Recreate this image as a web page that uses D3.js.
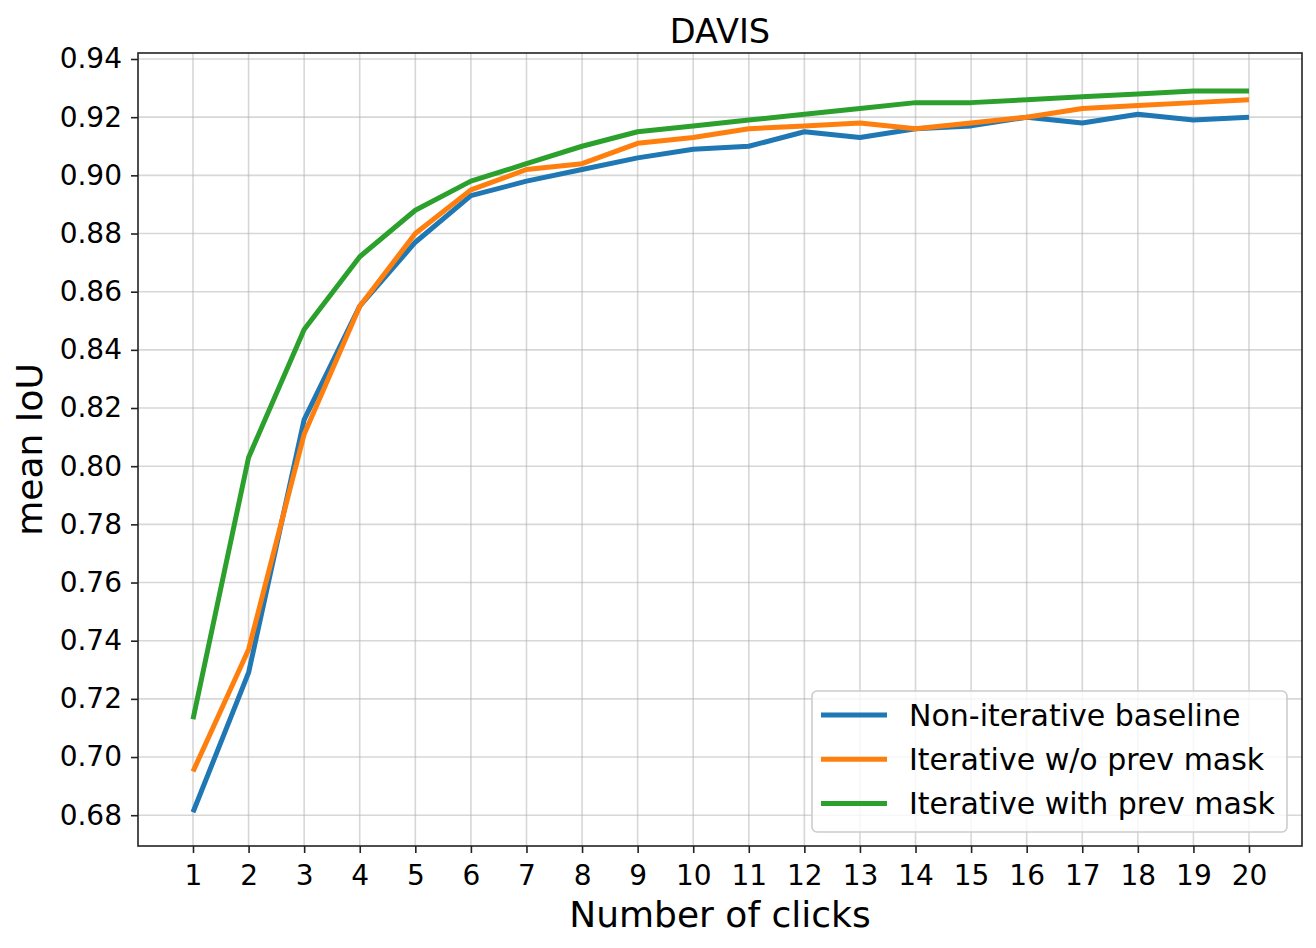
<!DOCTYPE html>
<html>
<head>
<meta charset="utf-8">
<script src="https://cdn.jsdelivr.net/npm/d3@7"></script>
<style>
  body { margin: 0; background: #fff; }
  text { font-family: "DejaVu Sans", sans-serif; fill: #000; }
</style>
</head>
<body>
<div id="chart"></div>
<script>
// clicks on the x axis
var clicks = d3.range(1, 21);

// mean IoU per click
var baseline = [0.681, 0.729, 0.816, 0.855, 0.877, 0.893, 0.898, 0.902, 0.906, 0.909,
                0.910, 0.915, 0.913, 0.916, 0.917, 0.920, 0.918, 0.921, 0.919, 0.920];
var iterNoPrev = [0.695, 0.737, 0.811, 0.855, 0.880, 0.895, 0.902, 0.904, 0.911, 0.913,
                  0.916, 0.917, 0.918, 0.916, 0.918, 0.920, 0.923, 0.924, 0.925, 0.926];
var iterPrev = [0.713, 0.803, 0.847, 0.872, 0.888, 0.898, 0.904, 0.910, 0.915, 0.917,
                0.919, 0.921, 0.923, 0.925, 0.925, 0.926, 0.927, 0.928, 0.929, 0.929];

var seriesNames = ["Non-iterative baseline", "Iterative w/o prev mask", "Iterative with prev mask"];
var seriesColors = ["#1f77b4", "#ff7f0e", "#2ca02c"];
var yTicks = d3.range(0.68, 0.9401, 0.02);

var W = 1316, H = 948;
// plot frame
var frame = {left: 138, right: 1302, top: 53, bottom: 846};

var svg = d3.select("#chart").append("svg")
  .attr("width", W)
  .attr("height", H);

var x = d3.scaleLinear().domain([1, 20]).range([193, 1249]);
var y = d3.scaleLinear().domain([0.68, 0.94]).range([815.2, 59]);

// grid
var grid = svg.append("g");
grid.selectAll("line.gx").data(clicks).enter().append("line")
  .attr("x1", d => x(d)).attr("x2", d => x(d))
  .attr("y1", frame.top).attr("y2", frame.bottom)
  .attr("stroke", "#b0b0b0").attr("stroke-opacity", 0.5).attr("stroke-width", 1.6);
grid.selectAll("line.gy").data(yTicks).enter().append("line")
  .attr("x1", frame.left).attr("x2", frame.right)
  .attr("y1", d => y(d)).attr("y2", d => y(d))
  .attr("stroke", "#b0b0b0").attr("stroke-opacity", 0.5).attr("stroke-width", 1.6);

// lines
var line = d3.line().x((d, i) => x(clicks[i])).y(d => y(d));
[baseline, iterNoPrev, iterPrev].forEach(function(s, k) {
  svg.append("path")
    .attr("d", line(s))
    .attr("fill", "none")
    .attr("stroke", seriesColors[k])
    .attr("stroke-width", 5)
    .attr("stroke-linejoin", "round");
});

// axes
var xAxis = d3.axisBottom(x).tickValues(clicks).tickSize(7).tickPadding(12);
var gx = svg.append("g").attr("transform", "translate(0," + frame.bottom + ")").call(xAxis);
gx.select(".domain").remove();
gx.selectAll("line").attr("stroke", "#222").attr("stroke-width", 1.6);
gx.selectAll("text").style("font-size", "28px").attr("dy", "0.71em")
  .style("font-family", "DejaVu Sans");

var yAxis = d3.axisLeft(y).tickValues(yTicks).tickFormat(d3.format(".2f")).tickSize(7).tickPadding(9);
var gy = svg.append("g").attr("transform", "translate(" + frame.left + ",0)").call(yAxis);
gy.select(".domain").remove();
gy.selectAll("line").attr("stroke", "#222").attr("stroke-width", 1.6);
gy.selectAll("text").style("font-size", "28px").style("font-family", "DejaVu Sans");

// spines
svg.append("rect")
  .attr("x", frame.left).attr("y", frame.top)
  .attr("width", frame.right - frame.left).attr("height", frame.bottom - frame.top)
  .attr("fill", "none").attr("stroke", "#222").attr("stroke-width", 1.6);

// title and labels
svg.append("text").attr("x", (frame.left + frame.right) / 2).attr("y", 43)
  .attr("text-anchor", "middle").style("font-size", "33.6px").text("DAVIS");
svg.append("text").attr("x", (frame.left + frame.right) / 2).attr("y", 927)
  .attr("text-anchor", "middle").style("font-size", "36px").text("Number of clicks");
svg.append("text")
  .attr("transform", "translate(42," + ((frame.top + frame.bottom) / 2) + ") rotate(-90)")
  .attr("text-anchor", "middle").style("font-size", "36px").text("mean IoU");

// legend
var leg = svg.append("g");
leg.append("rect")
  .attr("x", 812).attr("y", 691).attr("width", 475).attr("height", 141)
  .attr("rx", 5).attr("fill", "#fff").attr("fill-opacity", 0.8)
  .attr("stroke", "#cccccc").attr("stroke-width", 1.6);
seriesNames.forEach(function(name, k) {
  var ly = 715 + k * 44.2;
  leg.append("line")
    .attr("x1", 821).attr("x2", 887).attr("y1", ly).attr("y2", ly)
    .attr("stroke", seriesColors[k]).attr("stroke-width", 5);
  leg.append("text").attr("x", 909).attr("y", ly + 11)
    .style("font-size", "30px").text(name);
});
</script>
</body>
</html>
